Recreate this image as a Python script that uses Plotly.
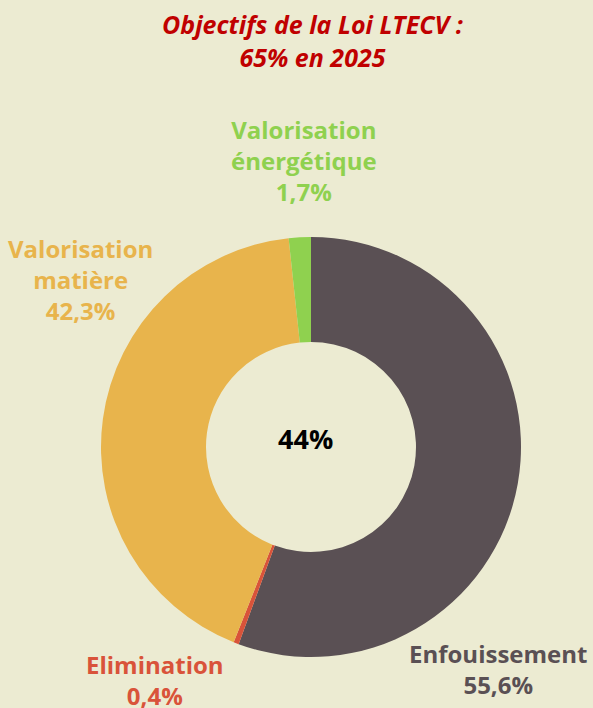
import plotly.graph_objects as go

LABELS = ["Enfouissement", "Elimination", "Valorisation matière", "Valorisation énergétique"]
VALUES = [55.6, 0.4, 42.3, 1.7]
COLOURS = ["#5A5054", "#D9533A", "#E8B44C", "#8FD14F"]

# text shown around the ring (label lines, value)
LABEL_TEXT = [
    "Enfouissement<br>55,6%",
    "Elimination<br>0,4%",
    "Valorisation<br>matière<br>42,3%",
    "Valorisation<br>énergétique<br>1,7%",
]
CENTER_TEXT = "44%"
TITLE = "Objectifs de la Loi LTECV :<br>65% en 2025"

W, H = 593, 708
BG = "#ECEBD2"
FONT = "Open Sans"

fig = go.Figure()

fig.add_trace(
    go.Pie(
        labels=LABELS,
        values=VALUES,
        hole=0.5,
        sort=False,
        direction="clockwise",
        rotation=0,
        marker=dict(colors=COLOURS, line=dict(width=0)),
        textinfo="none",
        hoverinfo="label+percent",
        showlegend=False,
        domain=dict(x=[101 / W, 521 / W], y=[(H - 657) / H, (H - 237) / H]),
    )
)

# label centres in pixels
label_pos = [(498, 669), (155, 680), (80, 279), (304, 160)]

for text, colour, (px, py) in zip(LABEL_TEXT, COLOURS, label_pos):
    fig.add_annotation(
        x=px / W, y=1 - py / H, xref="paper", yref="paper",
        xanchor="center", yanchor="middle",
        text=f"<b>{text}</b>",
        showarrow=False,
        align="center",
        font=dict(family=FONT, size=24, color=colour),
    )

fig.add_annotation(
    x=305 / W, y=1 - 438 / H, xref="paper", yref="paper",
    xanchor="center", yanchor="middle",
    text=f"<b>{CENTER_TEXT}</b>", showarrow=False,
    font=dict(family=FONT, size=27, color="#000000"),
)

fig.add_annotation(
    x=312 / W, y=1 - 41 / H, xref="paper", yref="paper",
    xanchor="center", yanchor="middle",
    text=f"<b><i>{TITLE}</i></b>", showarrow=False,
    font=dict(family=FONT, size=25, color="#C00000"),
)

fig.update_layout(
    width=W,
    height=H,
    margin=dict(t=0, b=0, l=0, r=0),
    paper_bgcolor=BG,
    plot_bgcolor=BG,
)

fig.write_html(
    "out.html",
    config={"displayModeBar": False},
    post_script="document.body.style.margin='0';",
)
